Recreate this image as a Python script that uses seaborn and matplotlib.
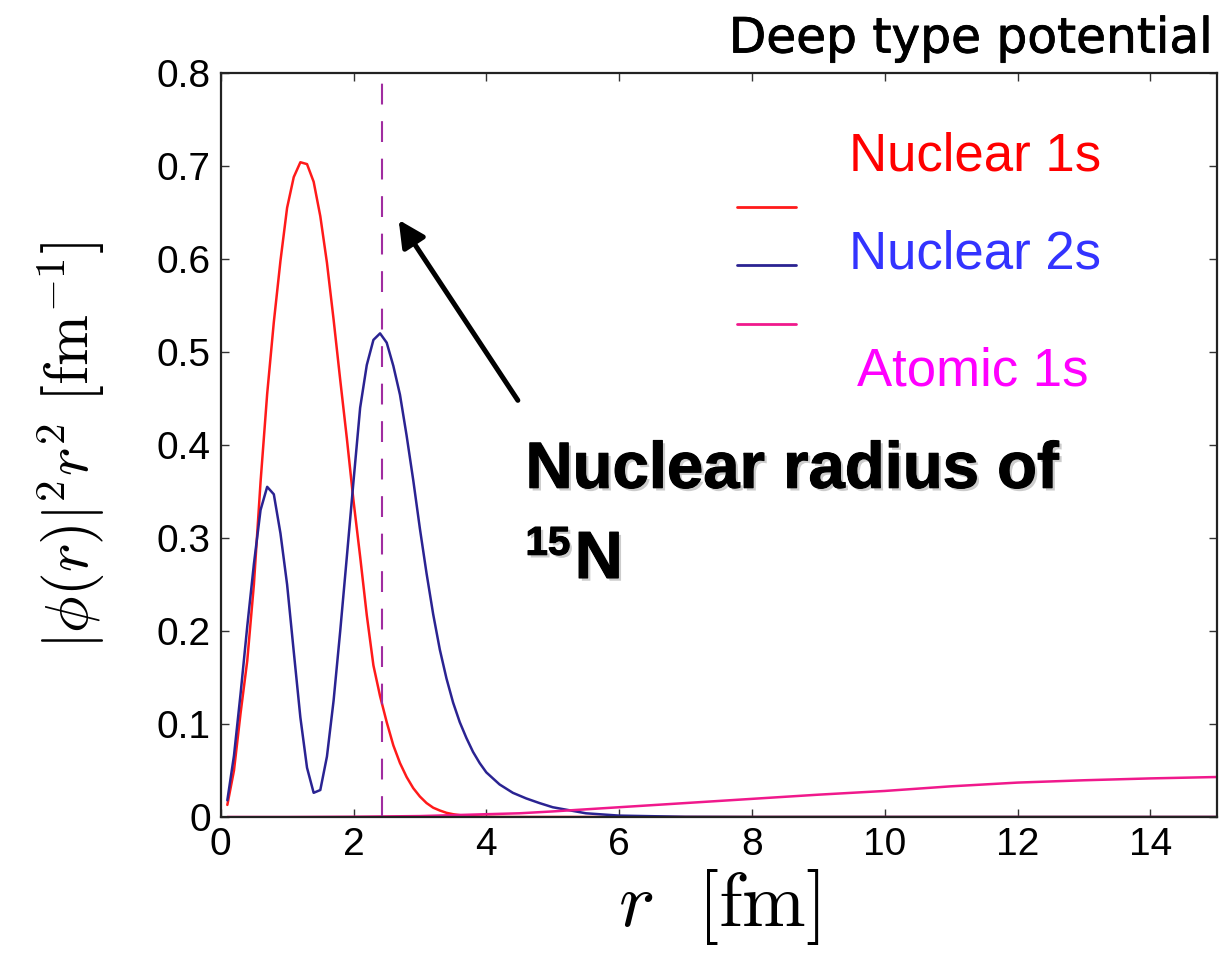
import matplotlib
matplotlib.use("Agg")
import matplotlib.pyplot as plt
import matplotlib.patheffects as pe
from matplotlib.lines import Line2D
from matplotlib.ticker import FuncFormatter, MultipleLocator
import seaborn as sns
import pandas as pd

# Radial grid [fm] for the nuclear states
r_nuc = [0.1, 0.2, 0.3, 0.4, 0.5, 0.6, 0.7, 0.8, 0.9, 1.0,
         1.1, 1.2, 1.3, 1.4, 1.5, 1.6, 1.7, 1.8, 1.9, 2.0,
         2.1, 2.2, 2.3, 2.4, 2.5, 2.6, 2.7, 2.8, 2.9, 3.0,
         3.1, 3.2, 3.3, 3.4, 3.5, 3.6, 3.7, 3.8, 3.9, 4.0,
         4.2, 4.4, 4.6, 4.8, 5.0, 5.5, 6.0, 7.0, 8.0, 10.0,
         12.0, 15.0]

# |phi(r)|^2 r^2 [fm^-1]
nuclear_1s = [0.013, 0.050, 0.112, 0.168, 0.250, 0.360, 0.455, 0.532, 0.598, 0.655,
              0.688, 0.704, 0.702, 0.683, 0.646, 0.596, 0.535, 0.470, 0.407, 0.340,
              0.280, 0.217, 0.163, 0.130, 0.102, 0.077, 0.058, 0.043, 0.031, 0.022,
              0.015, 0.010, 0.007, 0.0045, 0.003, 0.002, 0.0013, 0.0008, 0.0005, 0.0003,
              0.0001, 0.0, 0.0, 0.0, 0.0, 0.0, 0.0, 0.0, 0.0, 0.0,
              0.0, 0.0]

nuclear_2s = [0.018, 0.066, 0.133, 0.205, 0.272, 0.330, 0.355, 0.347, 0.305, 0.250,
              0.178, 0.107, 0.053, 0.026, 0.029, 0.065, 0.125, 0.200, 0.280, 0.361,
              0.440, 0.486, 0.513, 0.520, 0.510, 0.485, 0.454, 0.410, 0.362, 0.310,
              0.262, 0.218, 0.180, 0.149, 0.123, 0.102, 0.085, 0.070, 0.058, 0.048,
              0.035, 0.026, 0.020, 0.015, 0.0105, 0.004, 0.0015, 0.0002, 0.0, 0.0,
              0.0, 0.0]

# Atomic 1s state on a coarser grid
r_atomic = [0.1, 1.0, 2.0, 3.0, 3.5, 4.0, 4.5, 5.0, 6.0, 7.0,
            8.0, 9.0, 10.0, 11.0, 12.0, 13.0, 14.0, 15.0]
atomic_1s = [0.0, 0.0, 0.0003, 0.001, 0.002, 0.003, 0.004, 0.006, 0.0105, 0.015,
             0.0195, 0.024, 0.028, 0.033, 0.037, 0.0395, 0.0415, 0.043]

nuclear_radius = 2.43
series_labels = ["Nuclear 1s", "Nuclear 2s", "Atomic 1s"]

sns.set_style("ticks")
plt.rcParams["font.family"] = ["Liberation Sans", "DejaVu Sans"]
plt.rcParams["mathtext.fontset"] = "cm"
plt.rcParams.update({
    "text.color": "black", "axes.labelcolor": "black",
    "xtick.direction": "in", "ytick.direction": "in",
    "xtick.top": True, "ytick.right": True,
    "xtick.major.size": 6, "ytick.major.size": 6,
    "xtick.major.width": 1.0, "ytick.major.width": 1.0,
    "xtick.color": "#333333", "ytick.color": "#333333",
    "xtick.labelcolor": "black", "ytick.labelcolor": "black",
    "axes.edgecolor": "#222222", "axes.linewidth": 1.6,
})

fig = plt.figure(figsize=(12.22, 9.55), dpi=100)
ax = fig.add_axes([0.1806, 0.1445, 0.8151, 0.7791])

df_nuc = pd.DataFrame({"r": r_nuc, "n1s": nuclear_1s, "n2s": nuclear_2s})
df_atom = pd.DataFrame({"r": r_atomic, "a1s": atomic_1s})

c_1s, c_2s, c_atom = "#ff1a1a", "#2a2392", "#f0198c"
sns.lineplot(data=df_nuc, x="r", y="n1s", ax=ax, color=c_1s, lw=1.8, estimator=None)
sns.lineplot(data=df_nuc, x="r", y="n2s", ax=ax, color=c_2s, lw=1.8, estimator=None)
sns.lineplot(data=df_atom, x="r", y="a1s", ax=ax, color=c_atom, lw=1.8, estimator=None)

ax.axvline(nuclear_radius, color="#a02ca0", lw=1.5, dashes=(10, 8))

ax.set_xlim(0, 15)
ax.set_ylim(0, 0.8)
ax.xaxis.set_major_locator(MultipleLocator(2))
ax.yaxis.set_major_locator(MultipleLocator(0.1))
ax.yaxis.set_major_formatter(FuncFormatter(lambda v, p: "0" if abs(v) < 1e-9 else f"{v:.1f}"))
ax.tick_params(labelsize=28, pad=7)

ax.set_xlabel(r"$r\ \ [\mathrm{fm}]$", fontsize=55, labelpad=3)
ax.set_ylabel(r"$|\phi(r)|^2r^2\ [\mathrm{fm}^{-1}]$", fontsize=44, labelpad=36)

# Legend handles (labels are drawn as coloured text beside them)
handles = [Line2D([], [], color=c, lw=2) for c in (c_1s, c_2s, c_atom)]
ax.legend(handles, [" "] * 3, loc="upper left", bbox_to_anchor=(0.504, 0.853),
          frameon=False, fontsize=20, handlelength=2.15, labelspacing=1.17,
          borderpad=0, handletextpad=0.2)

ax.text(0.631, 0.8683, series_labels[0], transform=ax.transAxes, color="#ff0000",
        fontsize=38, va="baseline")
ax.text(0.631, 0.7366, series_labels[1], transform=ax.transAxes, color="#3333ff",
        fontsize=38, va="baseline")
ax.text(0.6385, 0.5793, series_labels[2], transform=ax.transAxes, color="#ff00ff",
        fontsize=38, va="baseline")

# Arrow pointing at the nuclear radius
ax.annotate("", xy=(2.68, 0.642), xytext=(4.475, 0.448),
            arrowprops=dict(arrowstyle="-|>", lw=3.6, color="black",
                            mutation_scale=40, shrinkA=0, shrinkB=0))

bold_fx = [pe.SimplePatchShadow(offset=(2, -2), alpha=0.2),
           pe.withStroke(linewidth=0.8, foreground="black")]
ax.text(4.59, 0.354, "Nuclear radius of", fontsize=47, fontweight="bold",
        va="baseline", ha="left", path_effects=bold_fx)
ax.text(4.59, 0.282, "15", fontsize=29, fontweight="bold",
        va="baseline", ha="left", path_effects=bold_fx)
ax.text(5.33, 0.257, "N", fontsize=48, fontweight="bold",
        va="baseline", ha="left", path_effects=bold_fx)

fig.text(0.992, 0.945, "Deep type potential", fontsize=35, ha="right",
         va="baseline", family="DejaVu Sans", color="black",
         path_effects=[pe.withStroke(linewidth=0.6, foreground="black")])

fig.savefig("out.png", dpi=100)
